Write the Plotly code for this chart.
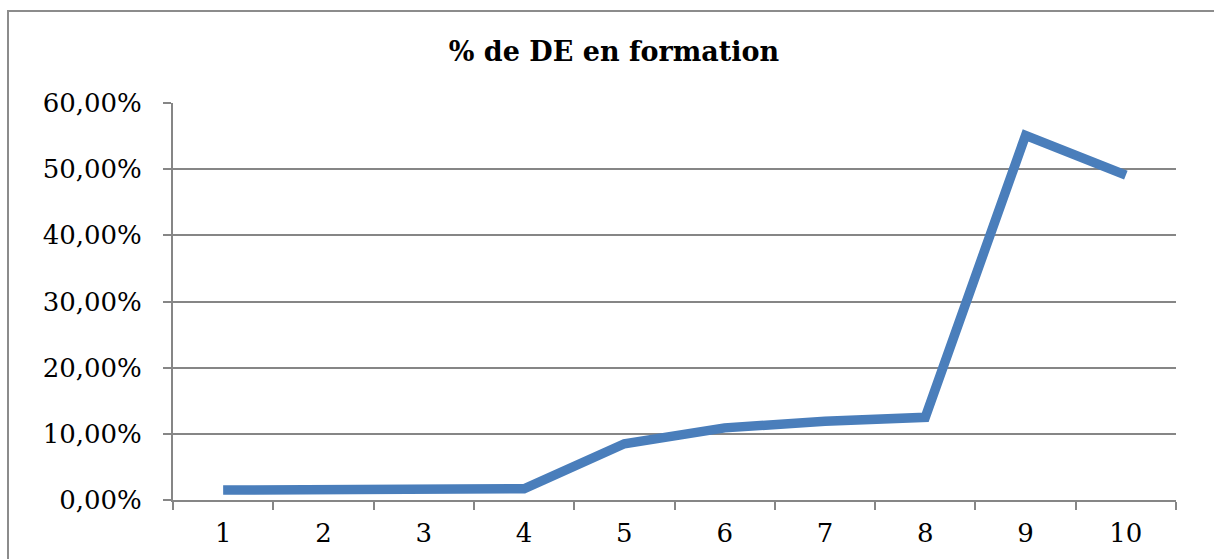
import plotly.graph_objects as go

# Share of job seekers in training, by decile
categories = ["1", "2", "3", "4", "5", "6", "7", "8", "9", "10"]
share_in_training = [0.015, 0.015, 0.016, 0.017, 0.085, 0.109, 0.119, 0.125, 0.551, 0.491]
y_tick_values = [0, 0.1, 0.2, 0.3, 0.4, 0.5, 0.6]
y_tick_labels = ["0,00%", "10,00%", "20,00%", "30,00%", "40,00%", "50,00%", "60,00%"]

W, H = 1214, 559
L, R, T, B = 173, 38, 103, 59
plot_w = W - L - R
plot_h = H - T - B

grid_color = "#868686"
font_family = "DejaVu Serif, Liberation Serif, serif"

fig = go.Figure()
fig.add_trace(go.Scatter(
    x=categories,
    y=share_in_training,
    mode="lines",
    line=dict(color="#4a7ebb", width=9.5),
    hoverinfo="skip",
))

# outer chart frame
fx0 = (8 - L) / plot_w
fy1 = (H - B - 11) / plot_h
fig.add_shape(type="rect", xref="paper", yref="paper",
              x0=fx0, x1=1.2, y0=-0.5, y1=fy1,
              line=dict(color="#8c8c8c", width=2), fillcolor="rgba(0,0,0,0)", layer="below")

fig.update_layout(
    width=W, height=H,
    margin=dict(l=L, r=R, t=T, b=B, pad=0),
    paper_bgcolor="white", plot_bgcolor="white",
    showlegend=False,
    title=dict(text="<b>% de DE en formation</b>", x=614 / W, xanchor="center",
               y=1 - 52 / H, yanchor="middle",
               font=dict(family=font_family, size=27, color="#000000")),
    font=dict(family=font_family, color="#000000"),
)

fig.update_xaxes(
    type="category",
    tickson="boundaries",
    showgrid=False,
    showline=True, linecolor=grid_color, linewidth=2,
    ticks="outside", ticklen=8, tickwidth=2, tickcolor=grid_color,
    ticklabelstandoff=9,
    tickfont=dict(size=26, family=font_family, color="#000000"),
    range=[-0.5, 9.5],
    zeroline=False,
)
fig.update_yaxes(
    range=[0, 0.6],
    tickvals=y_tick_values, ticktext=y_tick_labels,
    showgrid=True, gridcolor=grid_color, gridwidth=2,
    showline=True, linecolor=grid_color, linewidth=2,
    ticks="outside", ticklen=8, tickwidth=2, tickcolor=grid_color,
    ticklabelstandoff=16,
    tickfont=dict(size=26, family=font_family, color="#000000"),
    zeroline=False,
)

fig.write_html("out.html")
